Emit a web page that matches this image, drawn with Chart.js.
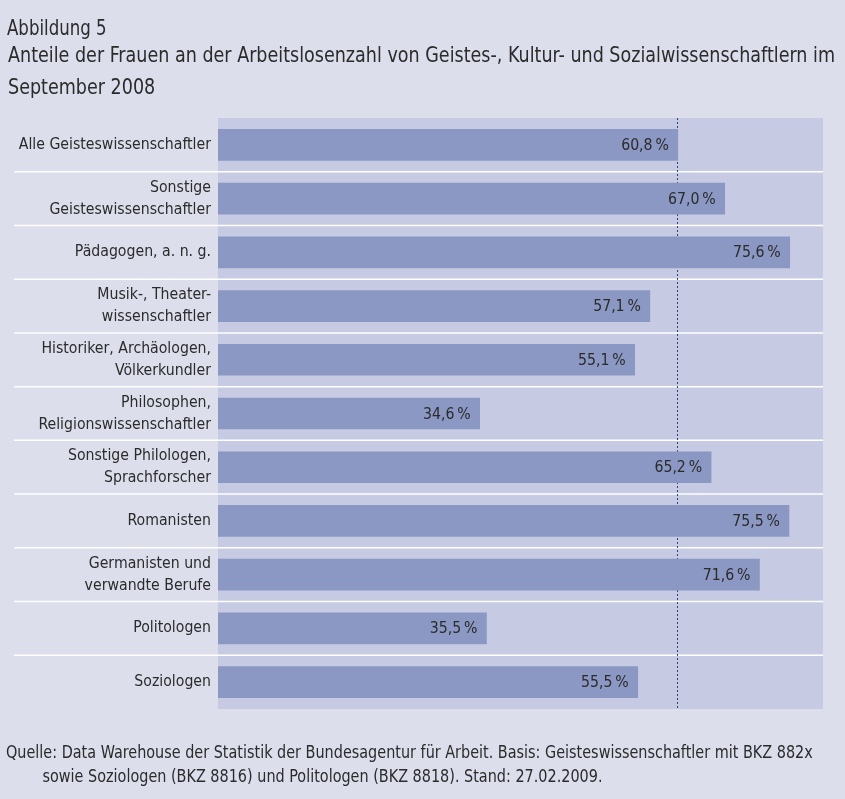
<!DOCTYPE html>
<html lang="de">
<head>
<meta charset="utf-8">
<title>Abbildung 5</title>
<script src="https://cdn.jsdelivr.net/npm/chart.js@4/dist/chart.umd.min.js"></script>
<style>
  html, body { margin: 0; padding: 0; }
  body {
    width: 845px; height: 799px; position: relative; overflow: hidden;
    background: #dcdeec;
    font-family: "DejaVu Sans Condensed", "Liberation Sans", sans-serif;
    color: #2b2b2b;
  }
  #chart { position: absolute; left: 0; top: 0; }
  .txt { position: absolute; white-space: nowrap; transform-origin: 0 0; }
  #fig { left: 7px; top: 16px; font-size: 20.5px; line-height: 24px; transform: scaleX(0.9); }
  #title { left: 8px; top: 40px; font-size: 21px; line-height: 31.5px; transform: scaleX(0.929); }
  #source { left: 6px; top: 740px; font-size: 18px; line-height: 24px; transform: scaleX(0.89); }
  #source .indent { padding-left: 41px; }
</style>
</head>
<body>
<canvas id="chart" width="845" height="799"></canvas>
<div class="txt" id="fig">Abbildung 5</div>
<div class="txt" id="title">Anteile der Frauen an der Arbeitslosenzahl von Geistes-, Kultur- und Sozialwissenschaftlern im<br>September 2008</div>
<div class="txt" id="source">Quelle: Data Warehouse der Statistik der Bundesagentur für Arbeit. Basis: Geisteswissenschaftler mit BKZ 882x<br><span class="indent">sowie Soziologen (BKZ 8816) und Politologen (BKZ 8818). Stand: 27.02.2009.</span></div>

<script>
// ── DATA ─────────────────────────────────────────────────────────────────────
const categories = [
  ["Alle Geisteswissenschaftler"],
  ["Sonstige", "Geisteswissenschaftler"],
  ["Pädagogen, a. n. g."],
  ["Musik-, Theater-", "wissenschaftler"],
  ["Historiker, Archäologen,", "Völkerkundler"],
  ["Philosophen,", "Religionswissenschaftler"],
  ["Sonstige Philologen,", "Sprachforscher"],
  ["Romanisten"],
  ["Germanisten und", "verwandte Berufe"],
  ["Politologen"],
  ["Soziologen"]
];
const womenShare = [60.8, 67.0, 75.6, 57.1, 55.1, 34.6, 65.2, 75.5, 71.6, 35.5, 55.5];
const axisMin = 0;
const axisMax = 80;
// dotted reference line sits at the "Alle Geisteswissenschaftler" value
const referenceValue = womenShare[0];

const FONT = "'DejaVu Sans Condensed', 'Liberation Sans', sans-serif";
const LABEL_SIZE = 15.7;

function fmtPct(v) {
  return v.toFixed(1).replace(".", ",") + "\u202F%";
}

// ── PLUGINS ──────────────────────────────────────────────────────────────────
const plotBackground = {
  id: "plotBackground",
  beforeDraw(chart) {
    const { ctx, chartArea: a } = chart;
    ctx.save();
    ctx.fillStyle = "#c6cbe3";
    ctx.fillRect(a.left, a.top, a.right - a.left, a.bottom - a.top);
    ctx.restore();
  }
};

const rowLinesAndReference = {
  id: "rowLinesAndReference",
  beforeDatasetsDraw(chart) {
    const { ctx, chartArea: a, scales } = chart;
    const y = scales.y, x = scales.x;
    ctx.save();
    // white separators between rows
    ctx.strokeStyle = "#ffffff";
    ctx.lineWidth = 1.5;
    for (let i = 1; i < categories.length; i++) {
      const py = (y.getPixelForValue(i - 1) + y.getPixelForValue(i)) / 2;
      ctx.beginPath();
      ctx.moveTo(14, py);
      ctx.lineTo(a.right, py);
      ctx.stroke();
    }
    // dotted reference line
    const rx = Math.round(x.getPixelForValue(referenceValue)) - 0.5;
    ctx.strokeStyle = "#24467e";
    ctx.lineWidth = 1;
    ctx.setLineDash([2, 2]);
    ctx.beginPath();
    ctx.moveTo(rx, a.top);
    ctx.lineTo(rx, a.bottom);
    ctx.stroke();
    ctx.restore();
  }
};

const valueLabels = {
  id: "valueLabels",
  afterDatasetsDraw(chart) {
    const { ctx } = chart;
    const meta = chart.getDatasetMeta(0);
    ctx.save();
    ctx.fillStyle = "#2b2b2b";
    ctx.font = `${LABEL_SIZE}px ${FONT}`;
    ctx.textAlign = "right";
    ctx.textBaseline = "middle";
    meta.data.forEach((bar, i) => {
      ctx.fillText(fmtPct(womenShare[i]), bar.x - 9, bar.y + 1);
    });
    ctx.restore();
  }
};

// ── CHART ────────────────────────────────────────────────────────────────────
new Chart(document.getElementById("chart").getContext("2d"), {
  type: "bar",
  data: {
    labels: categories,
    datasets: [{
      data: womenShare,
      backgroundColor: "#8a98c3",
      borderWidth: 0,
      barThickness: 31
    }]
  },
  options: {
    indexAxis: "y",
    responsive: false,
    animation: false,
    layout: { padding: { top: 118, bottom: 90, right: 22, left: 0 } },
    plugins: {
      legend: { display: false },
      tooltip: { enabled: false }
    },
    scales: {
      x: {
        display: false,
        min: axisMin,
        max: axisMax
      },
      y: {
        grid: { display: false, drawTicks: false },
        border: { display: false },
        ticks: {
          color: "#2b2b2b",
          padding: 7,
          font: { family: FONT, size: LABEL_SIZE, lineHeight: 1.4 }
        },
        afterFit(scale) { scale.width = 218; }
      }
    }
  },
  plugins: [plotBackground, rowLinesAndReference, valueLabels]
});
</script>
</body>
</html>
